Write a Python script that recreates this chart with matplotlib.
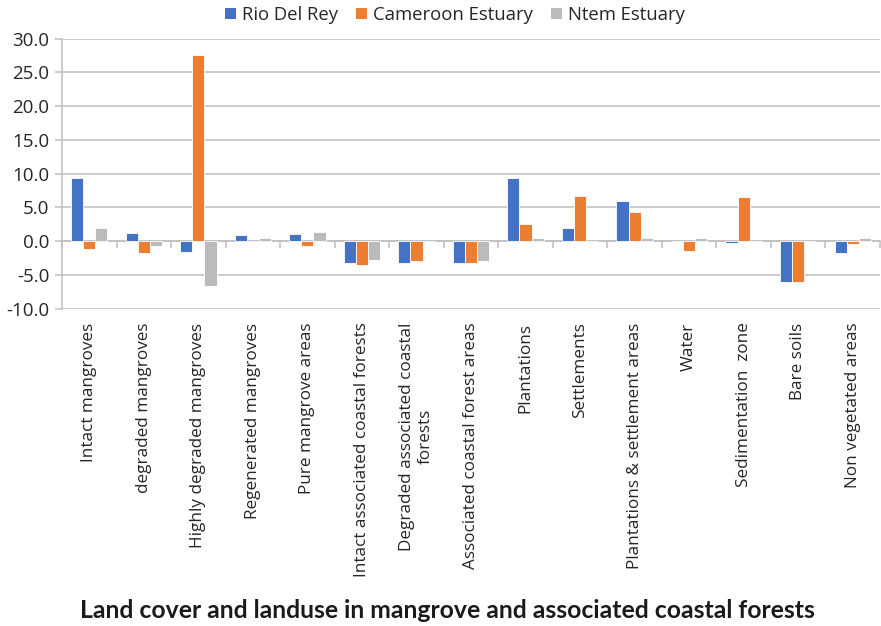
import numpy as np
import matplotlib
matplotlib.use("Agg")
import matplotlib.pyplot as plt
from matplotlib.patches import Patch

categories = [
    "Intact mangroves",
    "degraded mangroves",
    "Highly degraded mangroves",
    "Regenerated mangroves",
    "Pure mangrove areas",
    "Intact associated coastal forests",
    "Degraded associated coastal\nforests",
    "Associated coastal forest areas",
    "Plantations",
    "Settlements",
    "Plantations & settlement areas",
    "Water",
    "Sedimentation  zone",
    "Bare soils",
    "Non vegetated areas",
]

rio_del_rey = [9.3, 1.2, -1.6, 0.9, 1.1, -3.3, -3.3, -3.3, 9.4, 1.9, 6.0, 0.0, -0.3, -6.0, -1.8]
cameroon_estuary = [-1.1, -1.8, 27.6, 0.1, -0.7, -3.6, -3.0, -3.3, 2.5, 6.7, 4.3, -1.4, 6.5, -6.1, -0.4]
ntem_estuary = [2.0, -0.7, -6.7, 0.4, 1.4, -2.8, 0.0, -2.9, 0.4, 0.0, 0.4, 0.4, 0.0, 0.0, 0.4]

series_names = ["Rio Del Rey", "Cameroon Estuary", "Ntem Estuary"]
series_colors = ["#4472C4", "#ED7D31", "#BBBBBB"]
yticks = [-10, -5, 0, 5, 10, 15, 20, 25, 30]

label_font = "Open Sans"
title_font = "Lato"
text_color = "#262626"
grid_color = "#BFBFBF"

fig = plt.figure(figsize=(8.81, 6.26), dpi=100)
ax = fig.add_axes([62 / 881, 1 - 308.7 / 626, 818 / 881, 270 / 626])

x = np.arange(len(categories))
width = 1 / 4.5
for i, (vals, color) in enumerate(zip([rio_del_rey, cameroon_estuary, ntem_estuary], series_colors)):
    ax.bar(x + (i - 1) * width, vals, width, color=color,
           edgecolor="white", linewidth=0.6, zorder=3)

ax.set_xlim(-0.5, len(categories) - 0.5)
ax.set_ylim(-10, 30)
ax.set_yticks(yticks)
ax.set_yticklabels([f"{v:.1f}" for v in yticks], fontfamily=label_font,
                   fontsize=13.5, color=text_color)
ax.yaxis.grid(True, color=grid_color, linewidth=1.1, zorder=0)
ax.tick_params(axis="y", length=5, width=1.1, color=grid_color, pad=4)

ax.set_xticks(x)
ax.set_xticklabels(categories, rotation=90, fontfamily=label_font, fontsize=12.3,
                   color=text_color, va="top", ha="center", multialignment="center")
ax.tick_params(axis="x", length=0, pad=10)

for side in ["top", "right", "bottom"]:
    ax.spines[side].set_visible(False)
ax.spines["left"].set_color(grid_color)
ax.spines["left"].set_linewidth(1.1)

# category axis crossing at zero with boundary tick marks
zero_axis = ax.secondary_xaxis(0, transform=ax.transData)
zero_axis.set_xticks(np.arange(-0.5, len(categories), 1.0))
zero_axis.set_xticklabels([])
zero_axis.tick_params(axis="x", direction="out", length=5, width=1.1, color=grid_color)
zero_axis.spines["bottom"].set_color(grid_color)
zero_axis.spines["bottom"].set_linewidth(1.1)

handles = [Patch(facecolor=c, edgecolor="none", label=n) for c, n in zip(series_colors, series_names)]
fig.legend(handles=handles, loc="center", bbox_to_anchor=(455 / 881, 1 - 15 / 626),
           ncol=3, frameon=False, handlelength=0.6, handleheight=0.6,
           handletextpad=0.3, columnspacing=1.0,
           prop={"family": label_font, "size": 13.3}, labelcolor=text_color)

fig.text(447 / 881, 1 - 611 / 626, "Land cover and landuse in mangrove and associated coastal forests",
         ha="center", va="center", fontfamily=title_font, fontweight="bold",
         fontsize=17.8, color="#1a1a1a")

fig.savefig("out.png", dpi=100, facecolor="white")
